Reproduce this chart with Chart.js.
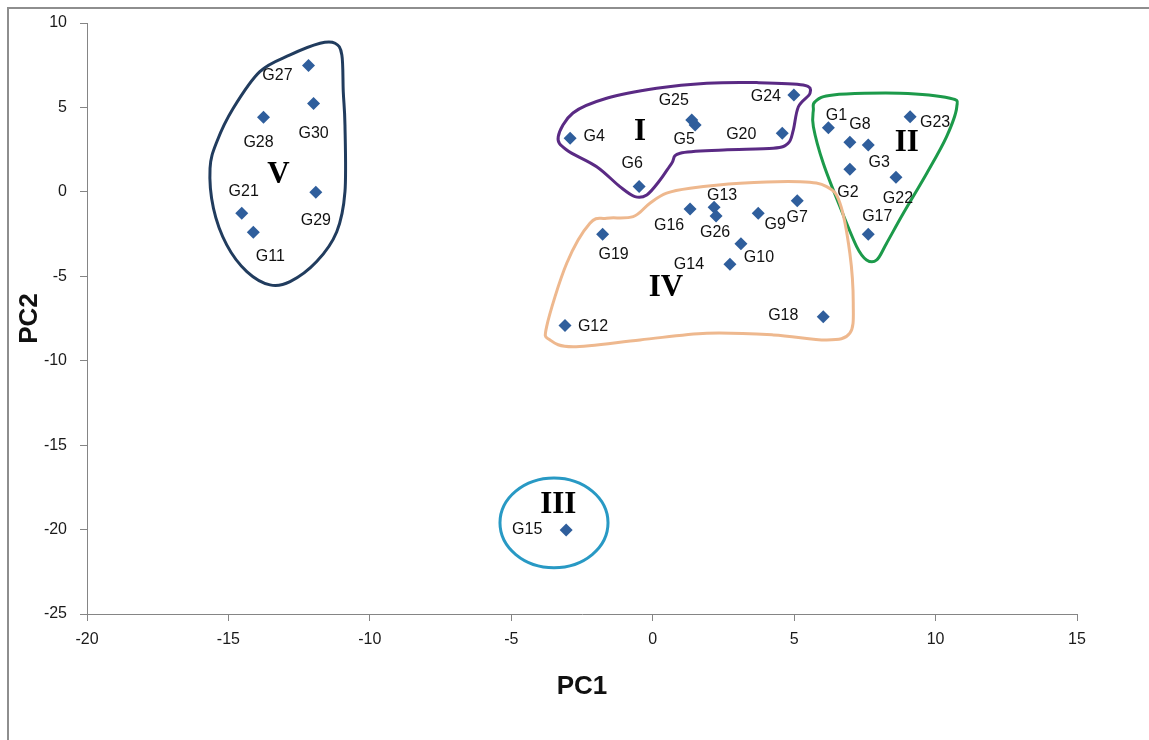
<!DOCTYPE html>
<html>
<head>
<meta charset="utf-8">
<script src="https://cdn.jsdelivr.net/npm/chart.js@4/dist/chart.umd.min.js"></script>
<style>
  body { margin: 0; background: #fff; }
  .wrap { width: 1149px; height: 740px; position: relative; }
</style>
</head>
<body>
<div class="wrap"><canvas id="pcaChart"></canvas></div>
<script>
// genotype scores on the first two principal components
var genotypes = ['G1', 'G2', 'G3', 'G4', 'G5', 'G6', 'G7', 'G8', 'G9', 'G10',
    'G11', 'G12', 'G13', 'G14', 'G15', 'G16', 'G17', 'G18', 'G19', 'G20',
    'G21', 'G22', 'G23', 'G24', 'G25', 'G26', 'G27', 'G28', 'G29', 'G30'];
var pc1 = [6.21, 6.97, 7.62, -2.92, 1.50, -0.48, 5.11, 6.97, 3.73, 3.12,
    -14.12, -3.10, 2.17, 2.73, -3.06, 1.32, 7.62, 6.03, -1.77, 4.58,
    -14.53, 8.60, 9.10, 4.99, 1.38, 2.24, -12.17, -13.76, -11.91, -11.99];
var pc2 = [3.80, 1.34, 2.78, 3.17, 3.96, 0.31, -0.52, 2.94, -1.27, -3.08,
    -2.39, -7.92, -0.91, -4.29, -20.02, -1.01, -2.51, -7.39, -2.51, 3.47,
    -1.27, 0.86, 4.45, 5.74, 4.26, -1.43, 7.49, 4.42, -0.02, 5.24];

var xTicks = [-20, -15, -10, -5, 0, 5, 10, 15];
var yTicks = [-25, -20, -15, -10, -5, 0, 5, 10];

// cluster names, where the numeral sits (PC1, PC2)
var clusterNames = ['I', 'II', 'III', 'IV', 'V'];
var clusterNameX = [-0.45, 8.98, -3.34, 0.47, -13.23];
var clusterNameY = [3.56, 2.88, -18.54, -5.71, 1.0];

// hand drawn boundaries around each group, in PC1/PC2 units
var outlineI = [[-3.34, 3.27], [-2.82, 4.67], [-1.63, 5.54], [0.14, 6.13], [1.91, 6.43],
    [3.68, 6.47], [5.32, 6.33], [5.56, 5.84], [5.15, 5.04], [4.97, 3.66], [4.79, 2.88],
    [4.26, 2.58], [2.50, 2.48], [0.97, 2.29], [0.67, 1.69], [0.26, 0.70], [-0.21, -0.18],
    [-0.63, -0.28], [-1.16, 0.31], [-1.98, 1.49], [-3.04, 2.48]];
var outlineII = [[5.74, 5.34], [6.38, 5.74], [8.74, 5.84], [10.51, 5.54], [10.75, 5.04],
    [10.39, 3.27], [9.69, 1.10], [8.86, -1.27], [8.27, -3.04], [7.92, -4.03], [7.56, -4.03],
    [7.21, -3.24], [6.62, -0.88], [6.03, 1.69], [5.68, 3.86], [5.68, 4.85]];
var outlineIV = [[-3.75, -7.98], [-3.04, -4.23], [-2.22, -1.86], [-1.63, -1.56], [-0.69, -1.47],
    [-0.10, -0.67], [0.49, -0.08], [1.32, 0.21], [3.09, 0.51], [5.21, 0.60], [6.15, 0.31],
    [6.62, -0.67], [6.97, -3.64], [7.09, -6.60], [6.97, -8.37], [6.15, -8.77], [4.26, -8.47],
    [1.91, -8.37], [-0.45, -8.77], [-2.81, -9.17], [-3.63, -8.77]];
var outlineV = [[-11.23, 8.80], [-11.76, 8.80], [-12.82, 8.11], [-13.89, 7.12], [-14.83, 4.95],
    [-15.41, 2.97], [-15.65, 1.40], [-15.53, -0.97], [-15.06, -3.14], [-14.35, -4.72],
    [-13.53, -5.51], [-12.82, -5.32], [-11.88, -4.13], [-11.17, -2.36], [-10.88, 0.01],
    [-10.88, 3.96], [-10.94, 5.93], [-10.99, 8.11]];
// group III is a single genotype, ringed by an ellipse: centre and half widths
var ringIII = [-3.49, -19.6, 1.91, 2.66];

// where each name goes next to its marker (pixels)
var labelShift = {
    G1: [8, -12], G2: [-2, 23], G3: [11, 18], G4: [24, -2], G5: [-11, 15],
    G6: [-7, -23], G7: [0, 17], G8: [10, -18], G9: [17, 11], G10: [18, 14],
    G11: [17, 24], G12: [28, 1], G13: [8, -12], G14: [-41, 0], G15: [-39, 0],
    G16: [-21, 17], G17: [9, -18], G18: [-40, -1], G19: [11, 20], G20: [-41, 1],
    G21: [2, -22], G22: [2, 21], G23: [25, 6], G24: [-28, 2], G25: [-18, -19],
    G26: [-1, 17], G27: [-31, 10], G28: [-5, 25], G29: [0, 28], G30: [0, 30]
};

var points = [];
for (var i = 0; i < genotypes.length; i++) {
    points.push({ x: pc1[i], y: pc2[i], name: genotypes[i] });
}

function closedCurve(ctx, pts) {
    var n = pts.length;
    ctx.beginPath();
    ctx.moveTo(pts[0][0], pts[0][1]);
    for (var k = 0; k < n; k++) {
        var p0 = pts[(k - 1 + n) % n], p1 = pts[k], p2 = pts[(k + 1) % n], p3 = pts[(k + 2) % n];
        ctx.bezierCurveTo(
            p1[0] + (p2[0] - p0[0]) / 6, p1[1] + (p2[1] - p0[1]) / 6,
            p2[0] - (p3[0] - p1[0]) / 6, p2[1] - (p3[1] - p1[1]) / 6,
            p2[0], p2[1]);
    }
    ctx.closePath();
}

var frame = {
    id: 'frame',
    beforeDraw: function (chart) {
        var ctx = chart.ctx;
        ctx.save();
        ctx.fillStyle = '#fff';
        ctx.fillRect(0, 0, chart.width, chart.height);
        ctx.strokeStyle = '#8e8e8e';
        ctx.lineWidth = 2;
        ctx.strokeRect(8, 8, chart.width + 20, chart.height + 20);
        ctx.restore();
    }
};

var groups = {
    id: 'groups',
    beforeDatasetsDraw: function (chart) {
        var ctx = chart.ctx, xs = chart.scales.x, ys = chart.scales.y;
        var shapes = [[outlineI, '#5a2a84'], [outlineII, '#1c9a4a'], [outlineIV, '#eeb88e'], [outlineV, '#213c5e']];
        ctx.save();
        ctx.lineWidth = 3;
        shapes.forEach(function (s) {
            var px = s[0].map(function (p) { return [xs.getPixelForValue(p[0]), ys.getPixelForValue(p[1])]; });
            closedCurve(ctx, px);
            ctx.strokeStyle = s[1];
            ctx.stroke();
        });
        var cx = xs.getPixelForValue(ringIII[0]), cy = ys.getPixelForValue(ringIII[1]);
        var rx = Math.abs(xs.getPixelForValue(ringIII[0] + ringIII[2]) - cx);
        var ry = Math.abs(ys.getPixelForValue(ringIII[1] + ringIII[3]) - cy);
        ctx.beginPath();
        ctx.ellipse(cx, cy, rx, ry, 0, 0, Math.PI * 2);
        ctx.strokeStyle = '#2899c4';
        ctx.stroke();
        ctx.restore();
    },
    afterDatasetsDraw: function (chart) {
        var ctx = chart.ctx, xs = chart.scales.x, ys = chart.scales.y;
        ctx.save();
        ctx.textAlign = 'center';
        ctx.textBaseline = 'middle';
        ctx.fillStyle = '#111';
        ctx.font = '16px "Liberation Sans", Arial, sans-serif';
        points.forEach(function (p) {
            var d = labelShift[p.name] || [0, 0];
            ctx.fillText(p.name, xs.getPixelForValue(p.x) + d[0], ys.getPixelForValue(p.y) + d[1]);
        });
        ctx.font = 'bold 31px "Liberation Serif", "Times New Roman", serif';
        ctx.fillStyle = '#000';
        for (var c = 0; c < clusterNames.length; c++) {
            ctx.fillText(clusterNames[c], xs.getPixelForValue(clusterNameX[c]), ys.getPixelForValue(clusterNameY[c]));
        }
        ctx.restore();
    }
};

var axisGray = '#858585';
var ctx = document.getElementById('pcaChart').getContext('2d');
var pcaChart = new Chart(ctx, {
    type: 'scatter',
    data: {
        datasets: [{
            label: 'genotypes',
            data: points,
            pointStyle: 'rectRot',
            pointRadius: 6.5,
            pointHoverRadius: 6.5,
            backgroundColor: '#2f5e9c',
            borderColor: '#2f5e9c',
            borderWidth: 0
        }]
    },
    options: {
        responsive: true,
        maintainAspectRatio: false,
        animation: false,
        layout: { padding: { top: 23, right: 72, left: 0, bottom: 0 } },
        plugins: {
            legend: { display: false },
            tooltip: { enabled: false }
        },
        scales: {
            x: {
                type: 'linear',
                min: -20,
                max: 15,
                afterBuildTicks: function (scale) {
                    scale.ticks = xTicks.map(function (v) { return { value: v }; });
                },
                afterFit: function (scale) { scale.height = 126; },
                grid: { drawOnChartArea: false, drawTicks: true, tickLength: 7, color: axisGray },
                border: { display: true, color: axisGray, width: 1 },
                ticks: {
                    padding: 9,
                    color: '#1a1a1a',
                    font: { family: '"Liberation Sans", Arial, sans-serif', size: 16 }
                },
                title: {
                    display: true,
                    text: 'PC1',
                    color: '#111',
                    font: { family: '"Liberation Sans", Arial, sans-serif', size: 26, weight: 'bold' },
                    padding: { top: 0, bottom: 38 }
                }
            },
            y: {
                type: 'linear',
                min: -25,
                max: 10,
                afterBuildTicks: function (scale) {
                    scale.ticks = yTicks.map(function (v) { return { value: v }; });
                },
                afterFit: function (scale) { scale.width = 87; },
                grid: { drawOnChartArea: false, drawTicks: true, tickLength: 7, color: axisGray },
                border: { display: true, color: axisGray, width: 1 },
                ticks: {
                    padding: 13,
                    color: '#1a1a1a',
                    font: { family: '"Liberation Sans", Arial, sans-serif', size: 16 }
                },
                title: {
                    display: true,
                    text: 'PC2',
                    color: '#111',
                    font: { family: '"Liberation Sans", Arial, sans-serif', size: 26, weight: 'bold' },
                    padding: { top: 14, bottom: 0 }
                }
            }
        }
    },
    plugins: [frame, groups]
});
</script>
</body>
</html>
